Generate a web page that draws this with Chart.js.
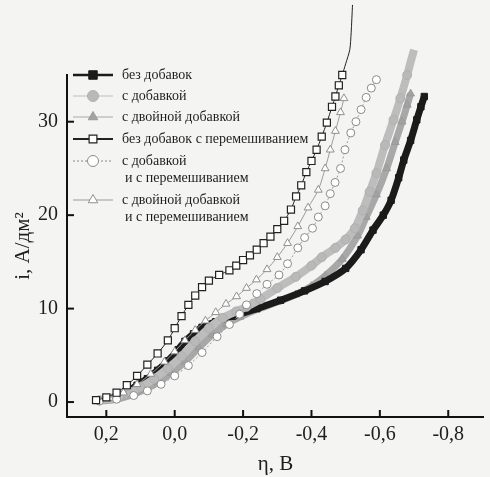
<!DOCTYPE html>
<html>
<head>
<meta charset="utf-8">
<script src="https://cdn.jsdelivr.net/npm/chart.js@4.4.0/dist/chart.umd.min.js"></script>
<style>
  html, body { margin: 0; padding: 0; background: #f4f4f2; }
  #wrap { width: 490px; height: 477px; position: relative; }
  canvas { display: block; }
</style>
</head>
<body>
<div id="wrap"><canvas id="c" width="490" height="477"></canvas></div>
<script>
// ---- data (η in V, i in A/dm²) ----
const xTicks = [0.2, 0.0, -0.2, -0.4, -0.6, -0.8];
const yTicks = [0, 10, 20, 30];

const seriesNames = [
  'без добавок',
  'с добавкой',
  'с двойной добавкой',
  'без добавок с перемешиванием',
  ['с добавкой', 'и с перемешиванием'],
  ['с двойной добавкой', 'и с перемешиванием']
];

// без добавок
const etaPlain = [0.22, 0.19, 0.16, 0.14, 0.11, 0.08, 0.05, 0.02, -0.01, -0.03, -0.055, -0.08, -0.12, -0.17, -0.24, -0.31, -0.38, -0.44, -0.50, -0.545, -0.58, -0.61, -0.633, -0.655, -0.67, -0.69, -0.708, -0.72, -0.73];
const iPlain   = [0.2, 0.4, 0.7, 1.1, 1.8, 2.5, 3.4, 4.4, 5.6, 6.5, 7.3, 8.0, 8.6, 9.2, 10.0, 10.9, 11.9, 12.9, 14.3, 16.3, 18.4, 20.0, 21.6, 24.0, 25.9, 28.0, 30.2, 31.6, 32.7];

// с добавкой
const etaAdd = [0.22, 0.18, 0.14, 0.10, 0.06, 0.02, -0.02, -0.06, -0.10, -0.14, -0.18, -0.21, -0.25, -0.30, -0.354, -0.40, -0.43, -0.47, -0.50, -0.527, -0.55, -0.57, -0.59, -0.615, -0.64, -0.66, -0.68, -0.69, -0.70];
const iAdd   = [0.2, 0.4, 0.9, 1.6, 2.5, 3.6, 4.9, 6.5, 7.9, 9.0, 9.7, 10.2, 11.0, 12.2, 13.4, 14.6, 15.5, 16.5, 17.4, 18.6, 20.5, 22.5, 24.5, 27.5, 30.2, 32.5, 35.0, 36.4, 37.7];

// с двойной добавкой
const etaDouble = [0.21, 0.17, 0.13, 0.09, 0.05, 0.01, -0.03, -0.07, -0.11, -0.15, -0.19, -0.24, -0.30, -0.354, -0.40, -0.44, -0.49, -0.535, -0.56, -0.59, -0.62, -0.645, -0.665, -0.68, -0.69];
const iDouble   = [0.1, 0.3, 0.7, 1.3, 2.1, 3.1, 4.3, 5.8, 7.2, 8.3, 9.1, 9.9, 10.7, 11.5, 12.4, 13.5, 15.3, 17.8, 19.8, 22.2, 25.0, 27.8, 30.0, 31.8, 33.0];

// без добавок с перемешиванием
const etaPlainMix = [0.23, 0.20, 0.17, 0.14, 0.11, 0.08, 0.05, 0.02, 0.00, -0.02, -0.04, -0.06, -0.08, -0.10, -0.13, -0.16, -0.18, -0.20, -0.22, -0.24, -0.26, -0.28, -0.30, -0.32, -0.34, -0.355, -0.37, -0.385, -0.40, -0.415, -0.43, -0.445, -0.46, -0.47, -0.48, -0.49, -0.50, -0.512, -0.516, -0.52];
const iPlainMix   = [0.2, 0.5, 1.0, 1.8, 2.8, 4.0, 5.2, 6.6, 7.9, 9.2, 10.4, 11.4, 12.3, 13.0, 13.6, 14.1, 14.6, 15.2, 15.7, 16.3, 17.0, 17.7, 18.5, 19.4, 20.6, 22.0, 23.2, 24.6, 25.8, 27.0, 28.4, 29.9, 31.6, 32.7, 33.9, 35.0, 36.2, 37.7, 39.5, 42.5];

// с добавкой и с перемешиванием
const etaAddMix = [0.22, 0.17, 0.12, 0.08, 0.04, 0.00, -0.04, -0.08, -0.124, -0.16, -0.19, -0.21, -0.24, -0.27, -0.305, -0.33, -0.36, -0.38, -0.403, -0.42, -0.44, -0.455, -0.469, -0.485, -0.498, -0.515, -0.53, -0.545, -0.56, -0.575, -0.59];
const iAddMix   = [0.1, 0.3, 0.7, 1.2, 1.9, 2.8, 3.9, 5.3, 7.0, 8.3, 9.4, 10.4, 11.6, 12.6, 13.6, 14.8, 16.5, 17.6, 18.6, 19.8, 21.0, 22.3, 23.5, 25.0, 27.0, 28.8, 30.0, 31.3, 32.6, 33.6, 34.5];

// с двойной добавкой и с перемешиванием
const etaDoubleMix = [0.23, 0.19, 0.15, 0.11, 0.07, 0.03, 0.00, -0.03, -0.06, -0.09, -0.12, -0.15, -0.181, -0.21, -0.239, -0.27, -0.30, -0.33, -0.36, -0.39, -0.42, -0.44, -0.455, -0.47, -0.485, -0.495];
const iDoubleMix   = [0.1, 0.4, 1.0, 1.9, 3.0, 4.3, 5.4, 6.6, 7.7, 8.7, 9.6, 10.5, 11.3, 12.2, 13.1, 14.2, 15.5, 17.0, 18.8, 20.8, 22.7, 25.0, 27.0, 29.0, 31.0, 32.5];

// ---- build ----
function pts(xs, ys) { return xs.map((x, k) => ({ x: x, y: ys[k] })); }
const FONT = "'Liberation Serif', 'Times New Roman', serif";

const styles = [
  { pointStyle: 'rect',     radius: 4.5, bg: '#1b1b1b', border: '#1b1b1b', line: '#1b1b1b', lw: 7, dash: [],     bw: 1 },
  { pointStyle: 'circle',   radius: 4.5, bg: '#b9b9b9', border: '#b0b0b0', line: '#bdbdbd', lw: 8, dash: [],     bw: 1 },
  { pointStyle: 'triangle', radius: 4.5, bg: '#a2a2a2', border: '#9a9a9a', line: '#a8a8a8', lw: 7, dash: [],     bw: 1 },
  { pointStyle: 'rect',     radius: 5,   bg: '#ffffff', border: '#222222', line: '#222222', lw: 1, dash: [],     bw: 1.2 },
  { pointStyle: 'circle',   radius: 4,   bg: '#ffffff', border: '#8a8a8a', line: '#9a9a9a', lw: 1, dash: [2, 2], bw: 1 },
  { pointStyle: 'triangle', radius: 4.5, bg: '#ffffff', border: '#8f8f8f', line: '#9a9a9a', lw: 1, dash: [],     bw: 1 }
];

const dataSets = [
  pts(etaPlain, iPlain), pts(etaAdd, iAdd), pts(etaDouble, iDouble),
  pts(etaPlainMix, iPlainMix), pts(etaAddMix, iAddMix), pts(etaDoubleMix, iDoubleMix)
];
const drawOrder = [5, 4, 6, 1, 2, 3]; // higher = drawn first

const datasets = dataSets.map((d, k) => {
  const s = styles[k];
  const n = d.length;
  return {
    label: Array.isArray(seriesNames[k]) ? seriesNames[k].join(' ') : seriesNames[k],
    data: d,
    showLine: true,
    borderColor: s.line,
    borderWidth: s.lw,
    borderDash: s.dash,
    backgroundColor: s.bg,
    pointStyle: s.pointStyle,
    pointRadius: k === 3 ? (ctx => (ctx.dataIndex >= n - 2 ? 0 : s.radius)) : s.radius,
    pointBackgroundColor: s.bg,
    pointBorderColor: s.border,
    pointBorderWidth: s.bw,
    tension: 0.25,
    clip: false,
    order: drawOrder[k]
  };
});

const inwardTicks = {
  id: 'inwardTicks',
  afterDraw(chart) {
    const ctx = chart.ctx;
    const xs = chart.scales.x, ys = chart.scales.y;
    const a = chart.chartArea;
    ctx.save();
    ctx.strokeStyle = '#111';
    ctx.lineWidth = 2;
    xTicks.forEach(v => {
      const px = xs.getPixelForValue(v);
      ctx.beginPath(); ctx.moveTo(px, a.bottom); ctx.lineTo(px, a.bottom - 7); ctx.stroke();
    });
    yTicks.forEach(v => {
      const py = ys.getPixelForValue(v);
      ctx.beginPath(); ctx.moveTo(a.left, py); ctx.lineTo(a.left + 7, py); ctx.stroke();
    });
    ctx.restore();
  }
};

const legendRows = [75, 96, 117, 139, 161, 200];
const legendPlugin = {
  id: 'innerLegend',
  afterDraw(chart) {
    const ctx = chart.ctx;
    ctx.save();
    ctx.font = '14px ' + FONT;
    ctx.textBaseline = 'middle';
    ctx.textAlign = 'left';
    seriesNames.forEach((name, k) => {
      const s = styles[k];
      const y = legendRows[k];
      ctx.save();
      ctx.strokeStyle = s.line;
      ctx.lineWidth = k === 0 ? 2.5 : (k === 3 ? 2 : 1.2);
      ctx.setLineDash(s.dash);
      ctx.beginPath(); ctx.moveTo(73, y); ctx.lineTo(113, y); ctx.stroke();
      ctx.restore();
      ctx.save();
      ctx.fillStyle = s.bg;
      ctx.strokeStyle = s.border;
      ctx.lineWidth = s.bw;
      Chart.helpers.drawPoint(ctx, { pointStyle: s.pointStyle, radius: k === 0 ? 6 : 5.5, borderWidth: s.bw, rotation: 0 }, 93, y);
      ctx.restore();
      ctx.fillStyle = '#1e1e1e';
      const lines = Array.isArray(name) ? name : [name];
      lines.forEach((t, j) => ctx.fillText(t, 122 + (j ? 3 : 0), y + j * 17));
    });
    ctx.restore();
  }
};

new Chart(document.getElementById('c'), {
  type: 'scatter',
  data: { datasets: datasets },
  options: {
    responsive: false,
    animation: false,
    devicePixelRatio: 1,
    layout: { padding: { top: 75, right: 0, left: 0, bottom: 0 } },
    plugins: { legend: { display: false }, tooltip: { enabled: false } },
    scales: {
      x: {
        type: 'linear',
        reverse: true,
        min: -0.904,
        max: 0.315,
        afterFit: s => { s.height = 60; },
        afterBuildTicks: s => { s.ticks = xTicks.map(v => ({ value: v })); },
        grid: { display: false, drawTicks: false },
        border: { display: true, color: '#111', width: 2 },
        ticks: {
          color: '#1e1e1e',
          font: { family: FONT, size: 20 },
          padding: 6,
          maxRotation: 0,
          callback: v => v.toFixed(1).replace('.', ',')
        },
        title: {
          display: true,
          text: 'η, В',
          color: '#1e1e1e',
          font: { family: FONT, size: 21 },
          padding: { top: 0, bottom: 0 }
        }
      },
      y: {
        type: 'linear',
        min: -1.6,
        max: 35,
        afterFit: s => { s.width = 67; },
        afterBuildTicks: s => { s.ticks = yTicks.map(v => ({ value: v })); },
        grid: { display: false, drawTicks: false },
        border: { display: true, color: '#111', width: 2 },
        ticks: {
          color: '#1e1e1e',
          font: { family: FONT, size: 20 },
          padding: 9,
          callback: v => String(v)
        },
        title: {
          display: true,
          text: 'i, А/дм²',
          color: '#1e1e1e',
          font: { family: FONT, size: 21 },
          padding: { top: 11, bottom: 0 }
        }
      }
    }
  },
  plugins: [inwardTicks, legendPlugin]
});
</script>
</body>
</html>
